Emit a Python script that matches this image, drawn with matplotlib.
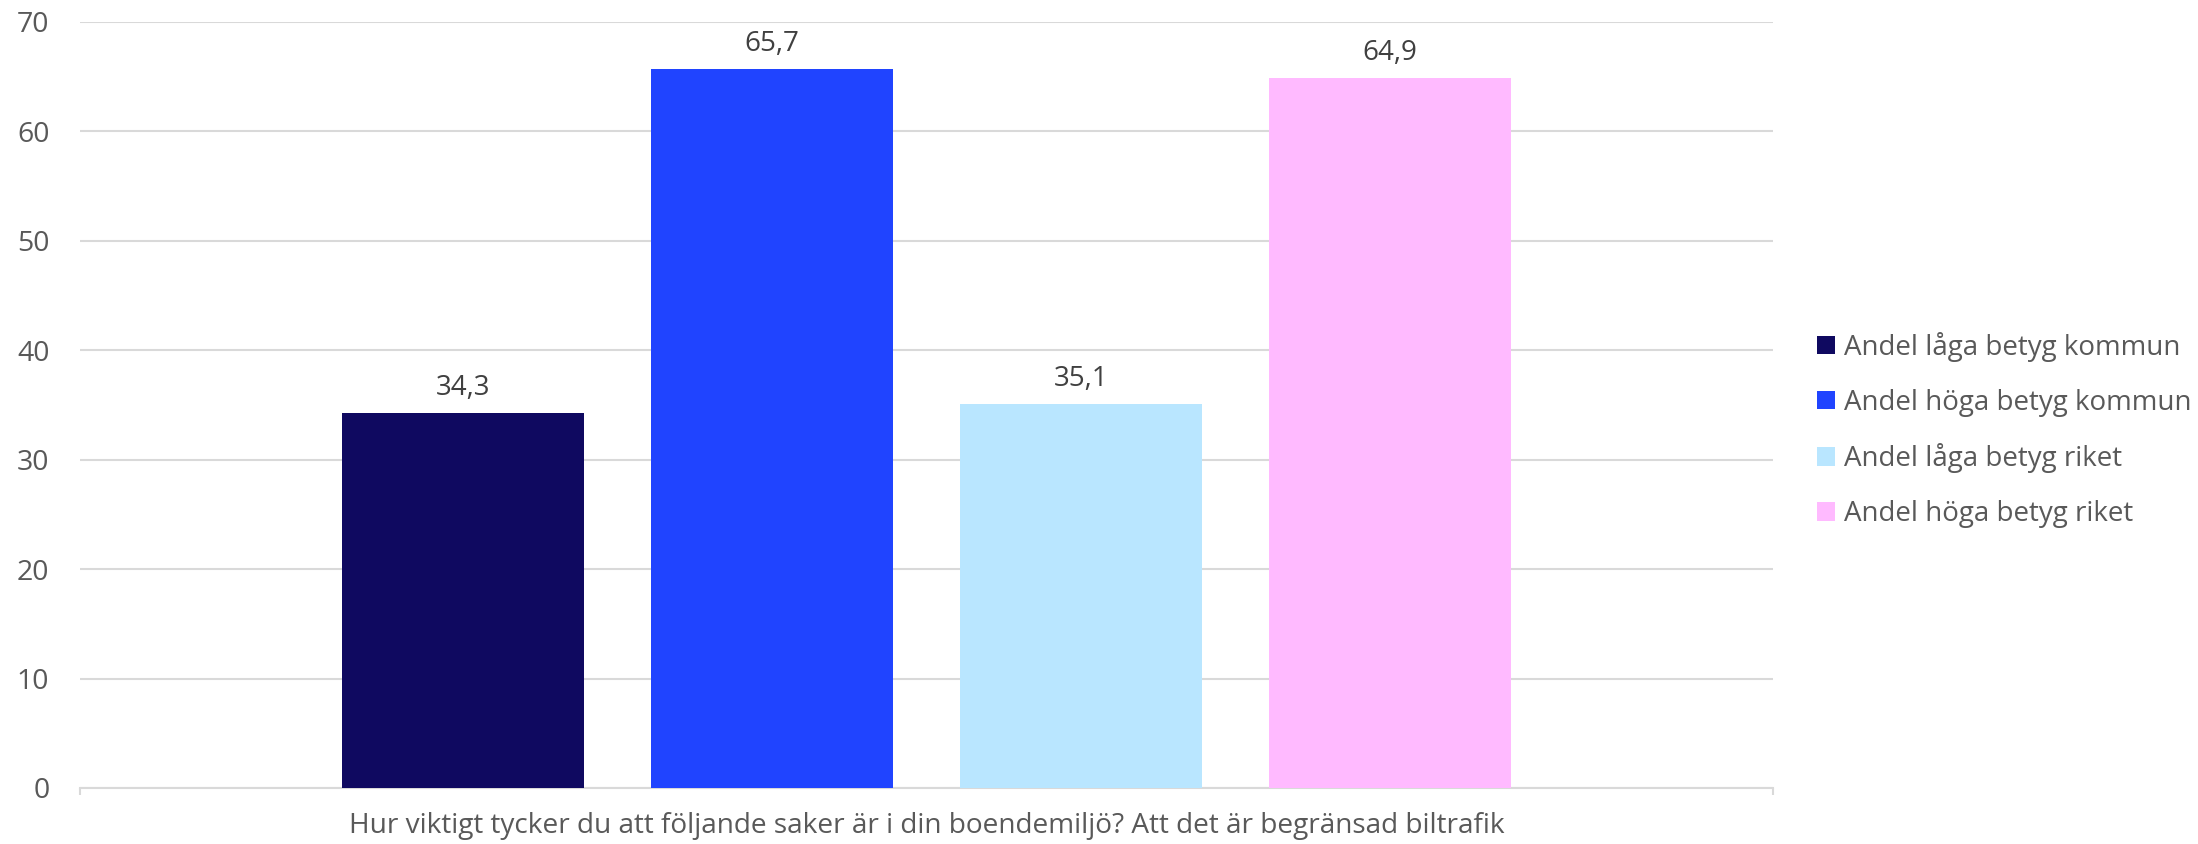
import numpy as np
import matplotlib.pyplot as plt

# Data
question = "Hur viktigt tycker du att följande saker är i din boendemiljö? Att det är begränsad biltrafik"
series = ["Andel låga betyg kommun", "Andel höga betyg kommun",
          "Andel låga betyg riket", "Andel höga betyg riket"]
values = [34.3, 65.7, 35.1, 64.9]
colors = ["#0f0960", "#2044ff", "#b9e6ff", "#ffbaff"]

plt.rcParams['font.family'] = ['Open Sans', 'DejaVu Sans']

fig = plt.figure(figsize=(21.98, 8.44), dpi=100)
ax = fig.add_axes([80/2198, 1 - 788/844, (1773 - 80)/2198, (788 - 22)/844])

step = 0.1825
width = 0.143
offsets = (np.arange(len(series)) - 1.5) * step
for off, val, col, name in zip(offsets, values, colors, series):
    ax.bar(off, val, width=width, color=col, label=name, zorder=3)
    ax.annotate(f"{val:.1f}".replace(".", ","), (off, val),
                xytext=(0, 8), textcoords="offset points",
                ha="center", va="bottom", fontsize=20, color="#404040")

ax.set_xlim(-0.5, 0.5)
ax.set_ylim(0, 70)
ax.set_yticks(np.arange(0, 71, 10))
ax.yaxis.grid(True, color="#d9d9d9", linewidth=1.5, zorder=0)
ax.tick_params(axis="y", length=0, pad=22, labelsize=20.5, labelcolor="#595959")

ax.set_xticks([0])
ax.set_xticklabels([question])
ax.tick_params(axis="x", length=0, pad=17, labelsize=20.2, labelcolor="#595959")
ax.set_xticks([-0.5, 0.5], minor=True)
ax.tick_params(axis="x", which="minor", length=5, width=1.5, color="#d9d9d9")

for s in ["top", "right", "left"]:
    ax.spines[s].set_visible(False)
ax.spines["bottom"].set_color("#d9d9d9")
ax.spines["bottom"].set_linewidth(1.5)

fig.legend(loc="center left", bbox_to_anchor=(1817/2198, 1 - 430/844),
           frameon=False, fontsize=20, labelcolor="#595959",
           handlelength=0.65, handleheight=0.65, handletextpad=0.33,
           labelspacing=0.97, borderpad=0, borderaxespad=0)

plt.savefig("out.png", dpi=100)
